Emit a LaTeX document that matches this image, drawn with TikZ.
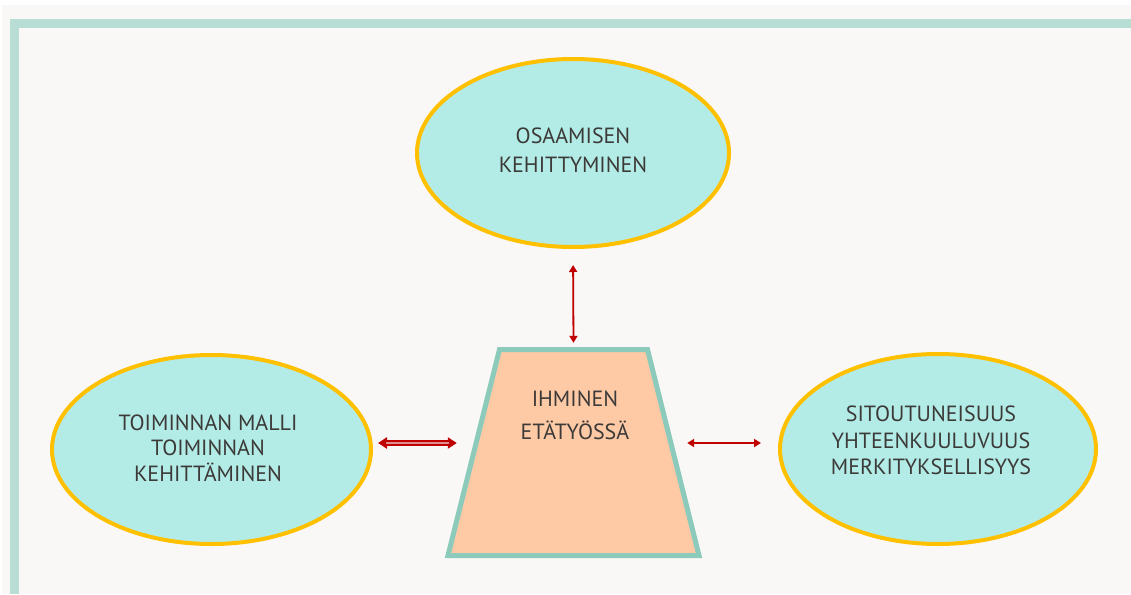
\documentclass[tikz,border=0pt]{standalone}
\usepackage{fontspec}
\setmainfont{PT Sans}
\usetikzlibrary{arrows.meta,shapes.geometric}

\definecolor{pagebg}{HTML}{F9F8F6}
\definecolor{frameteal}{HTML}{B7DDD5}
\definecolor{bubblefill}{HTML}{B3ECE6}
\definecolor{bubbleedge}{HTML}{FFC000}
\definecolor{trapfill}{HTML}{FEC9A5}
\definecolor{trapedge}{HTML}{8CCBBB}
\definecolor{linkred}{HTML}{C00000}
\definecolor{txt}{HTML}{3C3A38}

\begin{document}
\begin{tikzpicture}[x=1pt,y=-1pt,
  bubble/.style={ellipse, draw=bubbleedge, fill=bubblefill, line width=4pt, inner sep=0pt},
  personshape/.style={draw=trapedge, fill=trapfill, line width=5pt, line join=miter},
  label/.style={text=txt, align=center, inner sep=0pt},
  link/.style={draw=linkred, line width=1.8pt,
    {Triangle[length=7pt,width=8pt]}-{Triangle[length=7pt,width=8pt]}},
  heavylink/.style={draw=linkred, line width=5.5pt,
    {Triangle[length=9pt,width=11pt]}-{Triangle[length=9pt,width=11pt]},
    postaction={draw=linkred!45!white, line width=1.4pt, arrows=-,
      shorten <=8pt, shorten >=8pt}}
]
\useasboundingbox (0,0) rectangle (1131,594);

% page and frame
\fill[white] (0,0) rectangle (1131,594);
\fill[pagebg] (2,5) rectangle (1131,594);
\fill[frameteal] (10,19) rectangle (1131,28);
\fill[frameteal] (10,19) rectangle (19,594);

% ellipses
\node[bubble, minimum width=312pt, minimum height=188pt] (osaaminen) at (573,153) {};
\node[bubble, minimum width=319pt, minimum height=189pt] (toiminta) at (211.5,449.5) {};
\node[bubble, minimum width=316pt, minimum height=190pt] (sitoutuminen) at (938,449) {};

% central trapezoid and its frame node
\path[personshape] (448,555.5) -- (499.5,349.5) -- (647.5,349.5) -- (699,555.5) -- cycle;
\node[inner sep=0pt, minimum width=257pt, minimum height=211pt] (ihminen) at (573.5,452.5) {};

% texts
\node[label, font=\fontsize{22}{29}\selectfont] (osaaminen-t) at (573,150.5)
  {OSAAMISEN\\KEHITTYMINEN};
\node[label, font=\fontsize{22}{25.5}\selectfont] (toiminta-t) at (208,448)
  {TOIMINNAN MALLI\\TOIMINNAN\\KEHITTÄMINEN};
\node[label, font=\fontsize{22}{26.5}\selectfont] (sitoutuminen-t) at (931,440.5)
  {SITOUTUNEISUUS\\YHTEENKUULUVUUS\\MERKITYKSELLISYYS};
\node[label, font=\fontsize{22}{33}\selectfont] (ihminen-t) at (575,415)
  {IHMINEN\\ETÄTYÖSSÄ};

% connectors
\draw[link, shorten <=16pt, shorten >=4pt] (osaaminen.south) -- (ihminen.north);
\draw[heavylink] ([xshift=5pt,yshift=6.5pt]toiminta.east) -- ([xshift=12pt,yshift=9.5pt]ihminen.west);
\draw[link] ([xshift=-15pt,yshift=9.5pt]ihminen.east) -- ([xshift=-17pt,yshift=6pt]sitoutuminen.west);
\end{tikzpicture}
\end{document}
